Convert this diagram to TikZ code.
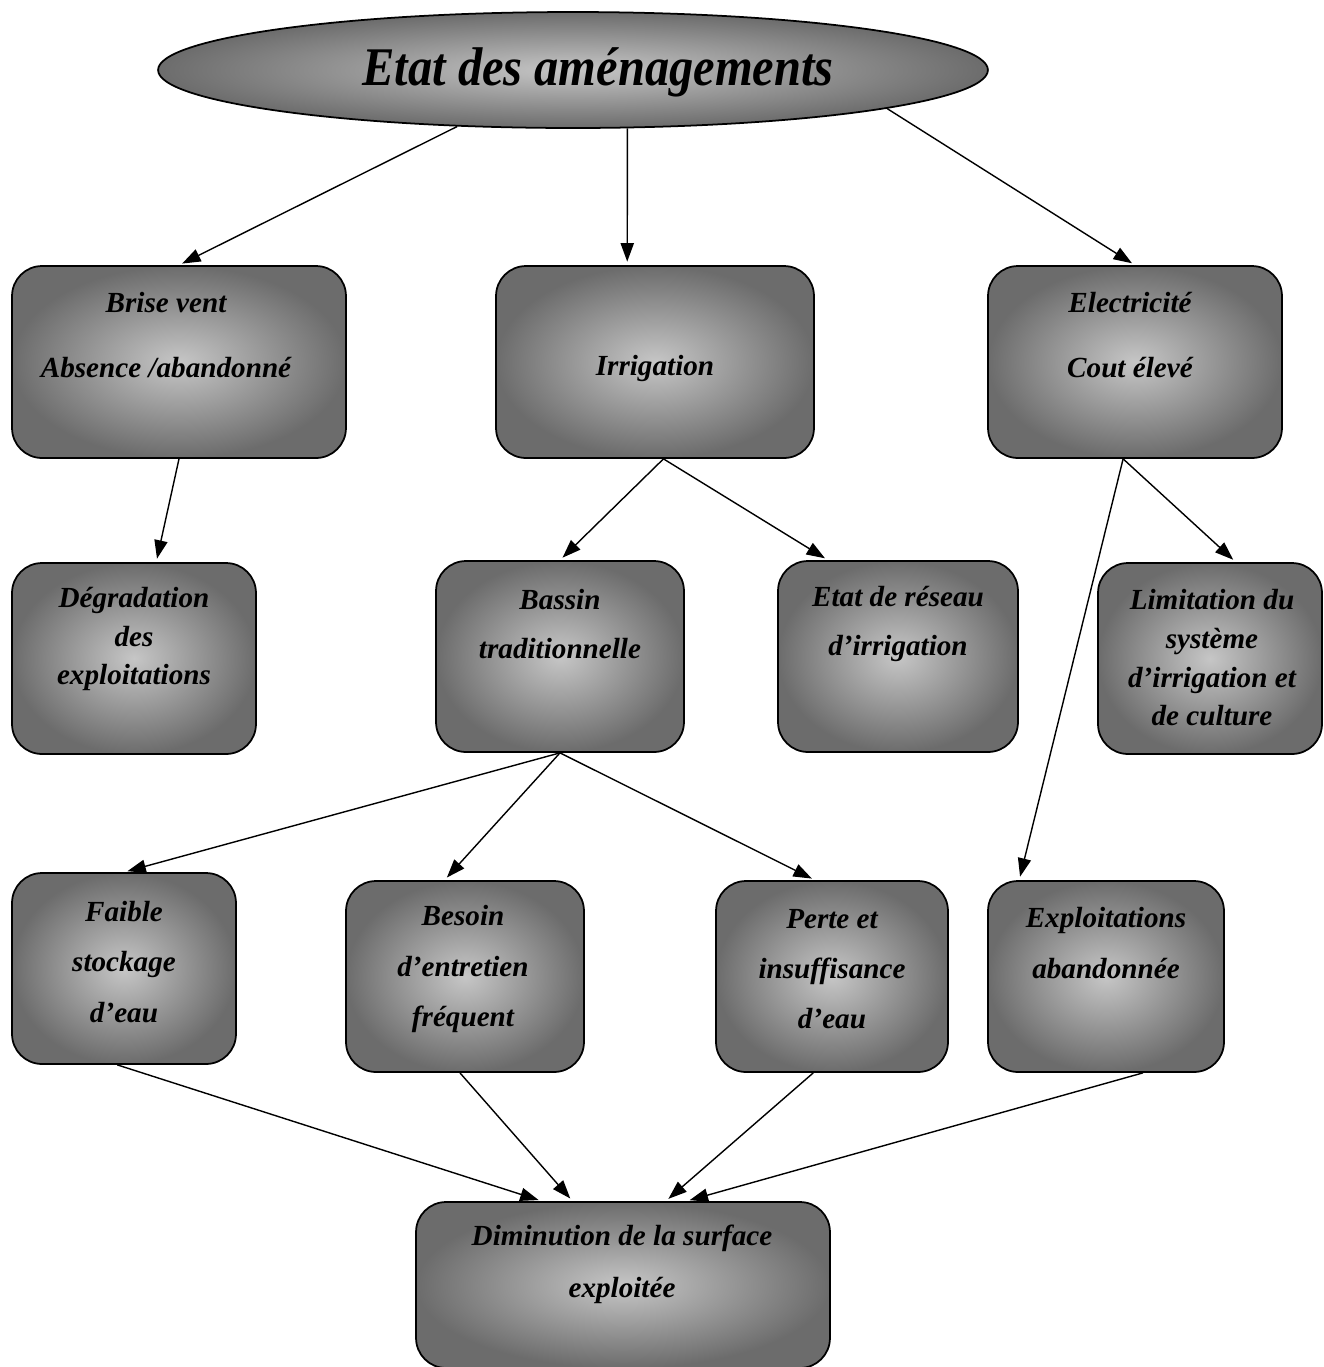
\documentclass[tikz,border=0pt]{standalone}
\usepackage{fontspec}
\setmainfont{Liberation Serif}
\usepackage{graphicx}
\usepackage{tikz}
\usetikzlibrary{calc, positioning, arrows.meta, shapes.geometric}
\definecolor{boxDark}{RGB}{108,108,108}
\definecolor{boxLight}{RGB}{198,198,198}

\tikzset{
  box/.style={draw=black, line width=1pt, rounded corners=0.6cm,
    shading=radial, inner color=boxLight, outer color=boxDark},
  lbl/.style={font=\fontsize{16.6}{22}\selectfont\bfseries\itshape, align=center, inner sep=0pt},
  arr/.style={-{Triangle[length=10.5pt,width=7.5pt]}, line width=0.8pt, shorten >=2pt}
}

\begin{document}
\begin{tikzpicture}[x=0.02cm, y=-0.02cm]
\useasboundingbox (0,0) rectangle (1324,1367);

% Title
\node[ellipse, draw=black, line width=1pt, minimum width=16.6cm, minimum height=2.32cm,
  shading=radial, inner color=boxLight, outer color=boxDark] (titre) at (573,70) {};
\node[font=\fontsize{31}{36}\selectfont\bfseries\itshape, inner sep=0pt] (titreT) at (598,72)
  {\scalebox{0.89}[1]{Etat des aménagements}};

% First row
\node[box, minimum width=6.68cm, minimum height=3.84cm] (bri) at (179,362) {};
\node[lbl] (briT) at (166,335) {Brise vent\\[15pt]Absence /abandonné};
\node[box, minimum width=6.36cm, minimum height=3.84cm] (irr) at (655,362) {};
\node[lbl] (irrT) at (655,368) {Irrigation};
\node[box, minimum width=5.88cm, minimum height=3.84cm] (ele) at (1135,362) {};
\node[lbl] (eleT) at (1130,335) {Electricité\\[15pt]Cout élevé};

% Second row
\node[box, minimum width=4.88cm, minimum height=3.82cm] (deg) at (134,658.5) {};
\node[lbl] (degT) at (134,639) {Dégradation\\des\\exploitations};
\node[box, minimum width=4.96cm, minimum height=3.82cm] (bas) at (560,656.5) {};
\node[lbl] (basT) at (560,624) {Bassin\\[6pt]traditionnelle};
\node[box, minimum width=4.8cm, minimum height=3.82cm] (res) at (898,656.5) {};
\node[lbl] (resT) at (898,624) {Etat de réseau\\[6pt]d’irrigation};
\node[box, minimum width=4.48cm, minimum height=3.82cm] (lim) at (1210,658.5) {};
\node[lbl] (limT) at (1212,658) {Limitation du\\système\\d’irrigation et\\de culture};

% Third row
\node[box, minimum width=4.48cm, minimum height=3.82cm] (fai) at (124,968.5) {};
\node[lbl] (faiT) at (124,962) {Faible\\[6.5pt]stockage\\[6.5pt]d’eau};
\node[box, minimum width=4.76cm, minimum height=3.82cm] (bes) at (465,976.5) {};
\node[lbl] (besT) at (463,969) {Besoin\\[6.5pt]d’entretien\\[6.5pt]fréquent};
\node[box, minimum width=4.64cm, minimum height=3.82cm] (per) at (832,976.5) {};
\node[lbl] (perT) at (832,969) {Perte et\\[6.5pt]insuffisance\\[6.5pt]d’eau};
\node[box, minimum width=4.72cm, minimum height=3.82cm] (exa) at (1106,976.5) {};
\node[lbl] (exaT) at (1106,943) {Exploitations\\[6.5pt]abandonnée};

% Result
\node[box, minimum width=8.28cm, minimum height=3.32cm] (dim) at (623,1285) {};
\node[lbl] (dimT) at (622,1264) {Diminution de la surface\\[7.5pt]exploitée};

% Arrows
\draw[arr] (titre.-154) -- (bri.north);
\draw[arr] (titre.-47) -- (irr.106);
\draw[arr] (titre.-7) -- (ele.north);
\draw[arr] (bri.south) -- (deg.77);
\draw[arr] (irr.-85) -- (bas.north);
\draw[arr] (irr.-85) -- (res.126);
\draw[arr] (ele.-97) -- (lim.75);
\draw[arr] (ele.-97) -- (exa.132);
\draw[arr] (bas.south) -- (fai.north);
\draw[arr] (bas.south) -- (bes.102);
\draw[arr] (bas.south) -- (per.100);
\draw[arr] (fai.-94) -- (dim.134);
\draw[arr] (bes.-93) -- (dim.121);
\draw[arr] (per.-101) -- (dim.63);
\draw[arr] (exa.-69) -- (dim.53);
\end{tikzpicture}
\end{document}
